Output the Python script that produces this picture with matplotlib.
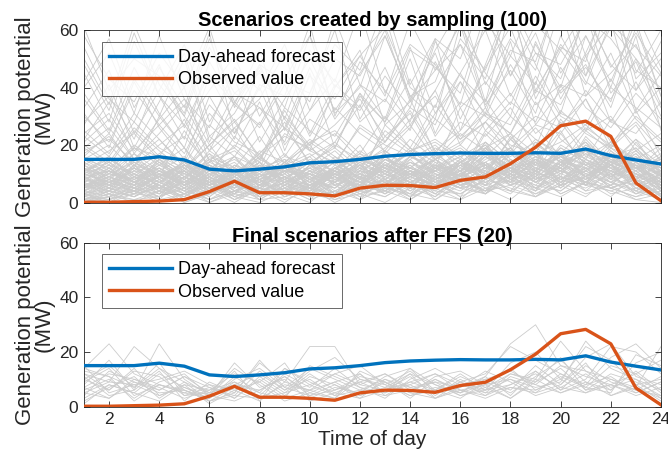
import numpy as np
import matplotlib
matplotlib.use("Agg")
import matplotlib.pyplot as plt

plt.rcParams["font.family"] = ["Liberation Sans", "DejaVu Sans"]

HOURS = list(range(1, 25))

FORECAST = [15.0, 15.0, 15.0, 15.9, 14.8, 11.6, 11.0, 11.6, 12.4, 13.8, 14.2, 15.0,
            16.1, 16.7, 17.0, 17.2, 17.1, 17.1, 17.3, 17.1, 18.6, 16.3, 14.8, 13.4]
OBSERVED = [0.1, 0.1, 0.3, 0.5, 1.0, 3.8, 7.4, 3.4, 3.4, 3.0, 2.3, 5.0,
            6.0, 5.9, 5.2, 7.7, 8.9, 13.5, 19.2, 26.7, 28.3, 23.0, 6.8, 0.6]

# 100 sampled scenarios (MW), rows = scenarios, columns = hours 1..24
SAMPLED = [
    [3, 8, 5, 12, 6, 2, 9, 4, 7, 11, 3, 6, 14, 8, 5, 10, 7, 12, 4, 9, 6, 13, 8, 2],
    [12, 6, 15, 9, 4, 11, 7, 3, 8, 5, 13, 9, 6, 16, 11, 7, 4, 10, 15, 8, 12, 5, 9, 6],
    [0, 2, 5, 1, 3, 7, 2, 0, 4, 6, 1, 3, 8, 2, 5, 1, 9, 4, 2, 7, 3, 6, 1, 0],
    [18, 22, 14, 9, 25, 12, 7, 16, 10, 21, 15, 8, 27, 19, 12, 33, 16, 24, 11, 29, 18, 14, 22, 9],
    [6, 4, 9, 3, 7, 12, 5, 8, 2, 6, 10, 4, 7, 11, 3, 8, 14, 6, 9, 5, 12, 7, 4, 10],
    [38, 25, 47, 31, 19, 44, 28, 36, 52, 24, 41, 33, 58, 37, 29, 62, 45, 34, 55, 40, 66, 38, 49, 30],
    [9, 14, 7, 11, 16, 8, 5, 13, 9, 4, 12, 17, 10, 6, 15, 9, 19, 12, 7, 14, 21, 10, 8, 13],
    [2, 5, 3, 8, 4, 1, 6, 3, 9, 5, 2, 7, 4, 10, 6, 3, 8, 12, 5, 9, 4, 11, 7, 3],
    [15, 10, 19, 13, 8, 17, 11, 6, 14, 20, 9, 16, 12, 22, 15, 10, 25, 18, 13, 28, 16, 21, 12, 17],
    [4, 9, 6, 2, 11, 5, 8, 3, 7, 12, 6, 1, 9, 5, 13, 8, 4, 10, 15, 7, 11, 6, 14, 5],
    [27, 41, 19, 35, 52, 23, 31, 46, 18, 38, 60, 29, 44, 33, 57, 25, 48, 70, 36, 53, 41, 63, 32, 45],
    [10, 7, 13, 5, 9, 15, 6, 11, 4, 8, 14, 10, 7, 12, 18, 9, 13, 6, 16, 11, 8, 19, 12, 7],
    [1, 3, 0, 4, 2, 6, 1, 5, 3, 0, 7, 2, 4, 8, 1, 6, 3, 9, 5, 2, 7, 4, 1, 3],
    [13, 18, 24, 15, 11, 20, 9, 17, 26, 14, 19, 12, 23, 31, 16, 21, 28, 17, 35, 22, 15, 29, 20, 13],
    [7, 2, 9, 5, 12, 4, 8, 1, 6, 10, 3, 8, 5, 11, 7, 2, 13, 9, 4, 15, 6, 10, 3, 8],
    [22, 35, 17, 29, 40, 14, 26, 33, 21, 45, 19, 37, 28, 50, 24, 42, 31, 56, 27, 39, 48, 33, 58, 25],
    [5, 11, 8, 14, 6, 9, 3, 12, 7, 4, 10, 15, 8, 5, 13, 11, 6, 17, 9, 14, 7, 12, 16, 4],
    [11, 6, 4, 9, 13, 7, 10, 5, 14, 8, 3, 11, 16, 9, 6, 12, 19, 8, 15, 10, 22, 13, 7, 11],
    [0, 4, 2, 6, 1, 3, 8, 2, 5, 1, 4, 9, 3, 7, 2, 10, 5, 1, 8, 12, 4, 6, 9, 2],
    [45, 28, 56, 37, 22, 49, 34, 27, 43, 58, 31, 40, 65, 36, 52, 29, 47, 61, 38, 55, 44, 72, 39, 50],
    [8, 13, 10, 6, 15, 11, 4, 9, 12, 7, 16, 8, 13, 10, 5, 14, 20, 11, 8, 17, 13, 9, 15, 12],
    [3, 1, 6, 2, 8, 4, 0, 5, 3, 7, 2, 9, 4, 1, 6, 11, 3, 8, 5, 13, 7, 2, 10, 4],
    [16, 24, 12, 30, 19, 9, 23, 15, 28, 13, 21, 34, 17, 26, 39, 20, 31, 24, 42, 27, 36, 19, 30, 22],
    [6, 9, 4, 11, 7, 3, 10, 6, 13, 8, 5, 12, 9, 15, 7, 11, 18, 10, 6, 14, 9, 16, 12, 8],
    [14, 8, 17, 11, 5, 13, 9, 16, 7, 12, 18, 10, 6, 15, 20, 12, 9, 23, 14, 11, 19, 8, 13, 10],
    [2, 7, 4, 1, 9, 5, 3, 8, 2, 6, 11, 4, 7, 3, 12, 6, 9, 4, 14, 8, 5, 10, 3, 7],
    [31, 19, 42, 26, 15, 37, 22, 48, 29, 18, 40, 53, 27, 35, 46, 62, 33, 51, 41, 68, 37, 45, 55, 34],
    [9, 5, 12, 7, 3, 10, 14, 6, 9, 4, 11, 7, 15, 10, 6, 13, 8, 18, 11, 7, 16, 12, 5, 9],
    [5, 12, 7, 15, 9, 4, 11, 8, 3, 13, 6, 10, 17, 5, 12, 8, 21, 14, 7, 11, 18, 9, 13, 6],
    [19, 13, 25, 16, 29, 11, 20, 14, 32, 18, 24, 15, 21, 36, 17, 28, 23, 33, 19, 41, 25, 30, 18, 24],
    [1, 0, 3, 5, 2, 7, 1, 4, 0, 6, 2, 5, 8, 3, 1, 7, 4, 10, 2, 6, 9, 3, 5, 1],
    [7, 15, 10, 4, 13, 8, 16, 5, 11, 9, 14, 6, 18, 12, 8, 15, 10, 22, 13, 17, 9, 14, 11, 19],
    [12, 9, 6, 14, 10, 17, 7, 12, 15, 5, 11, 20, 8, 16, 13, 9, 24, 15, 11, 19, 14, 8, 21, 10],
    [54, 36, 28, 47, 33, 59, 24, 41, 37, 62, 30, 49, 39, 28, 56, 44, 35, 67, 48, 31, 58, 42, 63, 37],
    [4, 7, 11, 6, 2, 9, 5, 13, 8, 3, 10, 6, 12, 4, 9, 14, 7, 11, 16, 5, 13, 8, 6, 10],
    [10, 16, 8, 13, 19, 6, 12, 9, 15, 11, 7, 14, 10, 18, 12, 16, 21, 9, 14, 25, 11, 17, 13, 8],
    [0, 2, 1, 4, 0, 3, 6, 1, 2, 5, 0, 4, 2, 7, 3, 1, 5, 8, 3, 6, 2, 9, 4, 1],
    [25, 17, 31, 22, 13, 27, 19, 35, 16, 29, 23, 38, 21, 33, 27, 45, 30, 24, 39, 34, 51, 28, 42, 26],
    [8, 11, 5, 9, 14, 7, 3, 10, 6, 13, 9, 5, 16, 11, 7, 14, 18, 12, 9, 20, 15, 11, 8, 14],
    [3, 6, 9, 4, 7, 2, 8, 5, 11, 3, 7, 12, 5, 9, 4, 10, 13, 7, 11, 6, 15, 9, 12, 5],
    [16, 11, 20, 14, 8, 18, 12, 23, 10, 16, 21, 13, 19, 27, 15, 24, 18, 30, 22, 17, 26, 20, 32, 16],
    [6, 3, 8, 12, 5, 9, 4, 7, 13, 6, 2, 9, 11, 5, 14, 8, 6, 12, 17, 9, 7, 15, 10, 4],
    [42, 57, 33, 48, 26, 39, 51, 30, 45, 35, 64, 41, 29, 53, 47, 38, 66, 44, 59, 36, 52, 71, 46, 40],
    [11, 14, 9, 16, 12, 7, 13, 10, 17, 8, 12, 15, 11, 19, 14, 9, 17, 13, 22, 16, 11, 20, 15, 12],
    [2, 4, 7, 3, 9, 5, 1, 6, 4, 8, 3, 10, 6, 2, 8, 5, 11, 7, 4, 13, 9, 5, 8, 3],
    [13, 7, 10, 15, 6, 12, 16, 8, 11, 14, 9, 6, 13, 17, 10, 8, 15, 19, 12, 9, 23, 14, 11, 16],
    [21, 29, 15, 24, 34, 18, 26, 12, 30, 20, 27, 36, 23, 17, 31, 42, 25, 35, 28, 47, 33, 26, 38, 29],
    [5, 8, 3, 10, 6, 12, 4, 9, 7, 2, 11, 5, 8, 13, 6, 10, 4, 15, 8, 12, 6, 18, 9, 7],
    [9, 4, 13, 7, 11, 3, 8, 14, 5, 10, 7, 13, 4, 9, 15, 7, 12, 9, 18, 6, 14, 10, 17, 8],
    [33, 46, 24, 39, 55, 28, 43, 21, 36, 50, 32, 45, 58, 37, 42, 64, 35, 53, 49, 74, 44, 61, 50, 39],
    [7, 10, 14, 8, 4, 11, 6, 9, 13, 7, 12, 8, 16, 10, 6, 14, 11, 19, 8, 13, 17, 10, 14, 7],
    [1, 5, 2, 7, 3, 0, 4, 8, 2, 5, 9, 3, 6, 1, 7, 4, 10, 6, 3, 8, 12, 5, 2, 6],
    [15, 20, 11, 17, 23, 13, 9, 18, 14, 22, 16, 11, 25, 18, 21, 15, 28, 20, 17, 32, 24, 19, 27, 14],
    [4, 2, 6, 9, 3, 7, 10, 4, 8, 5, 12, 7, 3, 10, 8, 13, 6, 9, 14, 7, 11, 16, 8, 5],
    [10, 13, 7, 12, 8, 15, 11, 6, 14, 9, 5, 13, 10, 16, 12, 9, 19, 14, 10, 24, 13, 17, 12, 15],
    [61, 39, 50, 44, 31, 57, 35, 47, 29, 53, 42, 67, 38, 55, 48, 34, 63, 51, 72, 45, 58, 40, 66, 47],
    [6, 9, 12, 5, 10, 7, 3, 11, 8, 14, 6, 10, 13, 7, 11, 16, 9, 13, 11, 18, 8, 14, 10, 6],
    [3, 0, 5, 2, 6, 1, 4, 7, 3, 9, 2, 6, 4, 11, 5, 8, 3, 12, 7, 4, 10, 6, 13, 2],
    [20, 14, 26, 18, 11, 23, 16, 28, 13, 21, 25, 17, 30, 19, 34, 22, 28, 38, 24, 31, 27, 43, 29, 21],
    [8, 12, 6, 15, 9, 4, 13, 7, 11, 10, 15, 8, 12, 17, 9, 14, 20, 11, 16, 13, 19, 12, 8, 14],
    [12, 5, 9, 7, 14, 10, 6, 12, 8, 15, 11, 5, 14, 9, 12, 18, 10, 7, 21, 14, 9, 16, 19, 11],
    [0, 3, 1, 2, 5, 0, 3, 1, 6, 2, 4, 1, 5, 3, 8, 2, 6, 4, 9, 3, 7, 5, 2, 4],
    [28, 37, 22, 44, 30, 18, 35, 26, 41, 23, 38, 32, 47, 27, 39, 55, 34, 46, 31, 58, 42, 36, 50, 33],
    [5, 7, 4, 10, 6, 13, 8, 3, 9, 6, 12, 7, 10, 5, 13, 9, 16, 11, 7, 15, 10, 13, 17, 9],
    [14, 10, 17, 8, 13, 11, 15, 9, 12, 16, 7, 14, 18, 11, 15, 20, 13, 17, 26, 16, 21, 14, 18, 12],
    [2, 6, 3, 8, 1, 5, 9, 4, 7, 3, 10, 5, 8, 2, 11, 6, 9, 13, 5, 10, 7, 14, 4, 8],
    [48, 32, 59, 37, 27, 45, 34, 53, 25, 44, 36, 51, 61, 40, 33, 57, 46, 68, 39, 54, 49, 76, 43, 52],
    [9, 11, 7, 13, 10, 6, 12, 8, 14, 5, 11, 9, 15, 12, 8, 13, 17, 10, 19, 14, 12, 9, 16, 11],
    [4, 8, 5, 3, 9, 6, 11, 2, 7, 10, 4, 8, 6, 12, 9, 5, 14, 8, 11, 17, 6, 13, 10, 7],
    [17, 23, 13, 20, 27, 15, 19, 11, 24, 18, 14, 26, 20, 16, 29, 22, 33, 19, 27, 24, 36, 21, 28, 18],
    [7, 4, 10, 6, 2, 8, 5, 12, 9, 4, 11, 7, 3, 9, 13, 6, 10, 15, 8, 12, 7, 17, 11, 5],
    [11, 16, 9, 12, 7, 14, 10, 17, 6, 13, 10, 18, 12, 8, 16, 11, 21, 14, 17, 12, 20, 15, 9, 13],
    [1, 2, 4, 0, 3, 6, 2, 5, 1, 4, 7, 3, 0, 5, 2, 8, 4, 6, 10, 3, 7, 5, 8, 2],
    [36, 24, 43, 30, 50, 21, 38, 33, 26, 47, 29, 41, 35, 54, 31, 45, 60, 37, 52, 43, 65, 48, 39, 56],
    [6, 10, 8, 4, 12, 7, 9, 14, 5, 11, 8, 13, 7, 10, 15, 9, 12, 18, 11, 16, 9, 13, 19, 10],
    [13, 9, 15, 11, 6, 16, 12, 8, 13, 17, 10, 7, 15, 12, 19, 14, 11, 22, 16, 13, 25, 18, 12, 15],
    [3, 5, 2, 7, 4, 9, 3, 6, 10, 4, 8, 5, 11, 7, 3, 9, 13, 6, 10, 8, 14, 7, 11, 4],
    [23, 16, 28, 19, 14, 31, 21, 17, 26, 20, 33, 24, 18, 29, 37, 23, 31, 27, 44, 30, 25, 40, 33, 26],
    [8, 6, 11, 9, 5, 12, 7, 10, 4, 13, 8, 11, 9, 14, 10, 7, 16, 12, 9, 19, 14, 11, 15, 9],
    [5, 9, 6, 11, 8, 3, 10, 7, 12, 6, 9, 14, 5, 11, 8, 13, 10, 7, 15, 11, 18, 9, 13, 6],
    [58, 43, 35, 52, 40, 61, 33, 48, 42, 38, 55, 46, 69, 41, 57, 50, 73, 44, 62, 53, 67, 47, 59, 45],
    [10, 7, 12, 9, 14, 8, 11, 6, 13, 10, 7, 15, 12, 9, 17, 11, 14, 19, 10, 16, 13, 21, 15, 11],
    [2, 1, 4, 6, 3, 8, 2, 5, 9, 3, 6, 2, 8, 4, 10, 5, 7, 3, 11, 6, 9, 13, 5, 3],
    [19, 26, 15, 22, 12, 20, 28, 16, 23, 19, 13, 27, 21, 32, 18, 25, 36, 22, 30, 26, 39, 28, 24, 35],
    [7, 12, 5, 9, 13, 6, 10, 8, 4, 11, 15, 8, 13, 9, 6, 14, 10, 17, 12, 8, 15, 11, 18, 9],
    [12, 8, 14, 10, 7, 13, 9, 15, 11, 8, 12, 16, 10, 14, 11, 18, 13, 10, 20, 15, 12, 17, 14, 10],
    [0, 1, 3, 2, 5, 1, 4, 2, 6, 3, 1, 5, 2, 7, 4, 3, 8, 5, 2, 9, 6, 4, 7, 1],
    [30, 21, 39, 27, 17, 34, 24, 40, 20, 32, 43, 28, 36, 25, 49, 33, 42, 30, 56, 38, 47, 35, 61, 37],
    [6, 8, 4, 9, 11, 5, 7, 12, 8, 6, 10, 13, 7, 11, 9, 15, 8, 12, 14, 10, 17, 13, 9, 11],
    [4, 11, 7, 5, 9, 13, 6, 8, 10, 4, 12, 9, 6, 14, 8, 11, 16, 9, 13, 11, 7, 15, 12, 6],
    [15, 12, 19, 16, 10, 14, 18, 11, 16, 13, 20, 15, 11, 18, 22, 16, 19, 24, 17, 21, 27, 19, 15, 20],
    [9, 3, 7, 11, 6, 10, 4, 9, 12, 7, 5, 11, 8, 13, 6, 10, 14, 8, 12, 16, 10, 7, 14, 9],
    [50, 34, 62, 41, 30, 54, 38, 45, 33, 58, 40, 51, 37, 63, 46, 55, 43, 70, 52, 48, 64, 57, 45, 60],
    [3, 7, 5, 10, 4, 8, 2, 6, 11, 5, 9, 4, 10, 7, 12, 6, 9, 14, 7, 11, 8, 13, 6, 10],
    [11, 15, 10, 7, 13, 9, 16, 12, 8, 14, 11, 17, 13, 10, 15, 19, 12, 16, 21, 14, 18, 13, 22, 15],
    [1, 4, 2, 6, 0, 3, 7, 2, 5, 1, 8, 3, 6, 2, 9, 5, 3, 10, 6, 4, 11, 7, 3, 5],
    [24, 31, 18, 27, 36, 20, 29, 15, 33, 25, 19, 38, 28, 43, 23, 35, 30, 48, 34, 41, 37, 52, 31, 40],
    [8, 5, 13, 10, 7, 11, 6, 14, 9, 12, 8, 6, 15, 10, 13, 9, 17, 11, 15, 12, 20, 14, 10, 16],
    [5, 10, 7, 3, 11, 6, 9, 4, 12, 8, 10, 5, 13, 7, 11, 14, 8, 12, 10, 17, 9, 15, 13, 7],
    [40, 52, 31, 58, 36, 26, 47, 39, 55, 32, 50, 44, 60, 35, 53, 68, 41, 57, 46, 75, 51, 62, 54, 44],
]

# 20 scenarios kept after forward selection (FFS)
REDUCED = [
    [14, 23, 12, 8, 5, 3, 10, 14, 7, 4, 6, 9, 5, 8, 3, 6, 4, 11, 8, 5, 9, 4, 7, 3],
    [12, 9, 22, 14, 6, 2, 5, 16, 9, 22, 22, 8, 12, 7, 5, 9, 6, 8, 12, 7, 5, 10, 6, 4],
    [8, 17, 6, 23, 10, 4, 2, 6, 11, 5, 9, 12, 4, 6, 10, 5, 8, 3, 9, 14, 6, 8, 12, 5],
    [5, 3, 9, 6, 11, 7, 4, 3, 5, 8, 4, 6, 10, 5, 3, 7, 11, 23, 30, 15, 11, 8, 5, 9],
    [13, 11, 7, 16, 4, 5, 8, 12, 6, 13, 18, 10, 7, 12, 8, 4, 6, 10, 7, 9, 24, 14, 10, 6],
    [10, 6, 14, 4, 8, 1, 6, 2, 14, 9, 5, 3, 6, 9, 12, 8, 5, 7, 5, 12, 8, 18, 23, 14],
    [3, 8, 5, 12, 7, 3, 9, 5, 3, 6, 12, 15, 8, 4, 6, 11, 7, 12, 10, 24, 13, 10, 7, 22],
    [7, 12, 10, 7, 3, 6, 12, 9, 16, 3, 7, 5, 11, 14, 8, 5, 10, 6, 15, 8, 18, 23, 11, 8],
    [15, 5, 8, 10, 13, 8, 3, 10, 4, 11, 8, 4, 9, 5, 11, 13, 8, 14, 6, 11, 7, 5, 19, 15],
    [9, 14, 4, 8, 6, 2, 7, 4, 12, 7, 14, 7, 3, 10, 14, 9, 4, 8, 13, 6, 15, 9, 6, 11],
    [2, 7, 11, 3, 9, 5, 14, 8, 2, 5, 3, 10, 8, 13, 6, 3, 9, 5, 11, 17, 9, 6, 13, 6],
    [11, 4, 6, 13, 2, 9, 5, 17, 7, 14, 10, 6, 4, 9, 6, 12, 6, 16, 20, 10, 22, 17, 8, 10],
    [6, 10, 3, 9, 12, 4, 16, 7, 10, 2, 5, 9, 12, 6, 9, 7, 13, 9, 4, 7, 12, 6, 16, 20],
    [4, 13, 9, 5, 6, 3, 11, 5, 14, 8, 12, 8, 6, 11, 4, 10, 5, 12, 9, 18, 6, 12, 9, 4],
    [12, 6, 13, 11, 4, 7, 3, 11, 5, 12, 6, 11, 9, 4, 7, 5, 11, 4, 13, 6, 10, 22, 20, 12],
    [1, 8, 5, 2, 8, 6, 9, 3, 8, 6, 9, 4, 7, 8, 12, 6, 3, 7, 6, 10, 5, 8, 4, 7],
    [10, 15, 7, 14, 9, 2, 4, 13, 6, 10, 4, 12, 5, 14, 5, 8, 10, 13, 8, 15, 13, 7, 10, 3],
    [7, 3, 10, 6, 11, 5, 8, 6, 11, 4, 8, 3, 10, 7, 9, 4, 7, 3, 10, 5, 8, 11, 5, 9],
    [14, 11, 2, 8, 5, 8, 6, 9, 3, 15, 11, 7, 5, 12, 3, 9, 12, 22, 17, 12, 7, 15, 12, 17],
    [5, 9, 8, 4, 7, 4, 13, 2, 9, 6, 3, 13, 9, 3, 10, 6, 8, 10, 5, 8, 16, 4, 8, 2],
]

BLUE = (0.000, 0.447, 0.741)
ORANGE = (0.850, 0.325, 0.098)
GRAY = (0.80, 0.80, 0.80)
AXC = (0.15, 0.15, 0.15)

fig = plt.figure(figsize=(6.68, 4.68), dpi=100)
ax_top = fig.add_axes([0.1257, 0.5673, 0.8638, 0.3686])
ax_bot = fig.add_axes([0.1257, 0.1314, 0.8638, 0.3494])

panels = [
    (ax_top, SAMPLED, "Scenarios created by sampling (100)"),
    (ax_bot, REDUCED, "Final scenarios after FFS (20)"),
]
for ax, scen, title in panels:
    for row in scen:
        ax.plot(HOURS, row, color=GRAY, linewidth=0.6, zorder=1)
    ax.plot(HOURS, FORECAST, color=BLUE, linewidth=2.4, label="Day-ahead forecast", zorder=3)
    ax.plot(HOURS, OBSERVED, color=ORANGE, linewidth=2.4, label="Observed value", zorder=3)
    ax.set_xlim(1, 24)
    ax.set_ylim(0, 60)
    ax.set_xticks(range(2, 25, 2))
    ax.set_yticks([0, 20, 40, 60])
    ax.tick_params(direction="in", top=True, right=True, labelsize=12.5,
                   colors=AXC, length=4, width=0.6, pad=4)
    for s in ax.spines.values():
        s.set_color(AXC)
        s.set_linewidth(0.6)
    ax.set_title(title, fontsize=14.5, fontweight="bold", pad=1)
    ax.set_ylabel("Generation potential\n(MW)", fontsize=16, color=AXC,
                  linespacing=0.9, labelpad=3)
    leg = ax.legend(loc="upper left", fontsize=13, frameon=True, fancybox=False,
                    borderpad=0.4, handlelength=3.5, handletextpad=0.3,
                    labelspacing=0.3, borderaxespad=0,
                    bbox_to_anchor=(0.031, 0.932))
    leg.get_frame().set_edgecolor(AXC)
    leg.get_frame().set_linewidth(0.6)

ax_top.set_xticklabels([])
ax_bot.set_xlabel("Time of day", fontsize=15, color=AXC, labelpad=2)

fig.savefig("out.png", dpi=100)
